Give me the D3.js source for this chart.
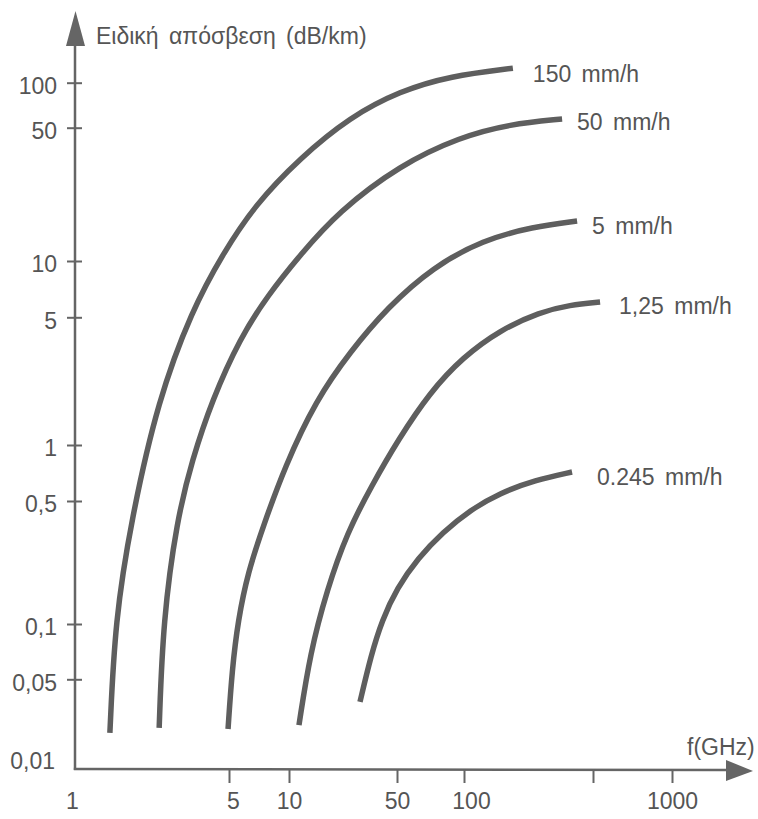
<!DOCTYPE html>
<html>
<head>
<meta charset="utf-8">
<script src="https://cdn.jsdelivr.net/npm/d3@7"></script>
<style>
  html, body { margin: 0; padding: 0; background: #ffffff; }
  svg { display: block; }
  text { font-family: "Liberation Sans", Arial, Helvetica, sans-serif; fill: #555; }
</style>
</head>
<body>
<svg id="chart" width="758" height="819"></svg>
<script>
// Specific rain attenuation (dB/km) versus frequency (GHz) for five rain rates.
const seriesLabels = ["150 mm/h", "50 mm/h", "5 mm/h", "1,25 mm/h", "0.245 mm/h"];

const freq150 = [1.44, 1.52, 1.80, 2.38, 3.40, 4.65, 6.75, 11.8, 24.8, 51.6, 86.5, 184];
const atten150 = [0.0191, 0.105, 0.39, 1.76, 5.47, 10.75, 19.7, 34.7, 59.0, 88.0, 110.9, 125];

const freq50 = [2.41, 2.51, 2.90, 3.40, 4.19, 5.68, 7.85, 11.8, 20.8, 51.6, 95.9, 177.5, 340];
const atten50 = [0.0209, 0.105, 0.39, 0.83, 1.76, 3.85, 6.58, 10.75, 18.1, 31.9, 44.7, 52.9, 57.2];

const freq5 = [4.95, 5.18, 5.55, 6.23, 7.40, 9.55, 14.95, 24.8, 43.7, 72.6, 126.7, 236.5, 410];
const atten5 = [0.0205, 0.0562, 0.105, 0.1975, 0.356, 0.771, 1.76, 3.23, 5.68, 9.29, 12.9, 15.1, 16.2];

const freq125 = [11.6, 13.7, 17.6, 23.7, 34.5, 50.5, 70.4, 99.0, 156.7, 258, 375, 532];
const atten125 = [0.022, 0.0696, 0.156, 0.329, 0.610, 1.065, 1.95, 3.03, 4.26, 5.34, 5.82, 6.04];

const freq0245 = [28.8, 34.0, 40.0, 50.0, 62.1, 80.5, 107.8, 156.7, 242.5, 385];
const atten0245 = [0.0333, 0.0678, 0.105, 0.160, 0.237, 0.333, 0.444, 0.552, 0.648, 0.716];

const xTicks = [1, 5, 10, 50, 100, 500, 1000];
const xTickLabels = ["1", "5", "10", "50", "100", "", "1000"];
const yTicks = [0.01, 0.05, 0.1, 0.5, 1, 5, 10, 50, 100];
const yTickLabels = ["0,01", "0,05", "0,1", "0,5", "1", "5", "10", "50", "100"];

const yTitle = "Ειδική απόσβεση (dB/km)";
const xTitle = "f(GHz)";

// ---- layout ----
const svg = d3.select("#chart");
const ink = "#5e5e5e";
const axisInk = "#656565";
const fontSize = 23;

// hand-spaced logarithmic axes (piecewise log scales through the tick marks)
const x = d3.scaleLog().domain(xTicks).range([75, 229, 289, 397, 464, 593, 672]);
const y = d3.scaleLog().domain(yTicks).range([769, 679.3, 624, 501, 445, 317.3, 261, 127.7, 82.7]);

const x0 = x(1), y0 = y(0.01);

// axis lines with arrow heads
svg.append("line").attr("x1", x0).attr("y1", y0 + 1).attr("x2", x0).attr("y2", 40)
  .attr("stroke", axisInk).attr("stroke-width", 2.5);
svg.append("path").attr("d", `M${x0 - 9},46 L${x0 + 0.5},11 L${x0 + 10},46 Z`).attr("fill", axisInk);

svg.append("line").attr("x1", x0 - 1.2).attr("y1", y0).attr("x2", 730).attr("y2", y0 + 1)
  .attr("stroke", axisInk).attr("stroke-width", 2.5);
svg.append("path").attr("d", `M726,${y0 - 9} L753,${y0 + 2} L726,${y0 + 12} Z`).attr("fill", axisInk);

// x axis ticks and labels
const gx = svg.append("g").attr("transform", `translate(0,${y0})`)
  .call(d3.axisBottom(x).tickValues(xTicks).tickSize(14).tickPadding(10)
    .tickFormat((d, i) => xTickLabels[i]));
gx.select(".domain").remove();
gx.selectAll(".tick line").attr("stroke", axisInk).attr("stroke-width", 2)
  .attr("display", d => d === 1 ? "none" : null);
gx.selectAll(".tick text").attr("font-size", fontSize).attr("fill", "#555")
  .attr("dx", d => d === 1 ? -3 : d === 5 ? 4 : d === 100 ? 7 : 0);

// y axis ticks and labels
const gy = svg.append("g").attr("transform", `translate(${x0},0)`)
  .call(d3.axisLeft(y).tickValues(yTicks).tickSize(8).tickPadding(10)
    .tickFormat((d, i) => yTickLabels[i]));
gy.select(".domain").remove();
gy.selectAll(".tick line").attr("x2", -8).attr("x1", 7).attr("stroke", axisInk).attr("stroke-width", 2)
  .attr("display", d => d === 0.01 ? "none" : null);
gy.selectAll(".tick text").attr("font-size", fontSize).attr("fill", "#555")
  .attr("transform", d => d === 0.01 ? "translate(-2,-7.5)" : "translate(0,3.5)");

// axis titles
svg.append("text").attr("x", 96).attr("y", 44).attr("font-size", fontSize).attr("word-spacing", 4).text(yTitle);
svg.append("text").attr("x", 687).attr("y", 755).attr("font-size", fontSize).text(xTitle);

// curves
const series = [
  { f: freq150, a: atten150 },
  { f: freq50, a: atten50 },
  { f: freq5, a: atten5 },
  { f: freq125, a: atten125 },
  { f: freq0245, a: atten0245 }
];
const labelOffset = [[20, 14], [15, 11], [15, 12.5], [19, 12], [25, 13]];

const line = d3.line().x(d => x(d[0])).y(d => y(d[1])).curve(d3.curveBasis);

series.forEach((s, i) => {
  const pts = s.f.map((f, k) => [f, s.a[k]]);
  svg.append("path").attr("d", line(pts)).attr("fill", "none")
    .attr("stroke", ink).attr("stroke-width", 5.5).attr("stroke-linecap", "butt");
  const end = pts[pts.length - 1];
  svg.append("text")
    .attr("x", x(end[0]) + labelOffset[i][0])
    .attr("y", y(end[1]) + labelOffset[i][1])
    .attr("font-size", fontSize).attr("word-spacing", 4)
    .text(seriesLabels[i]);
});
</script>
</body>
</html>
